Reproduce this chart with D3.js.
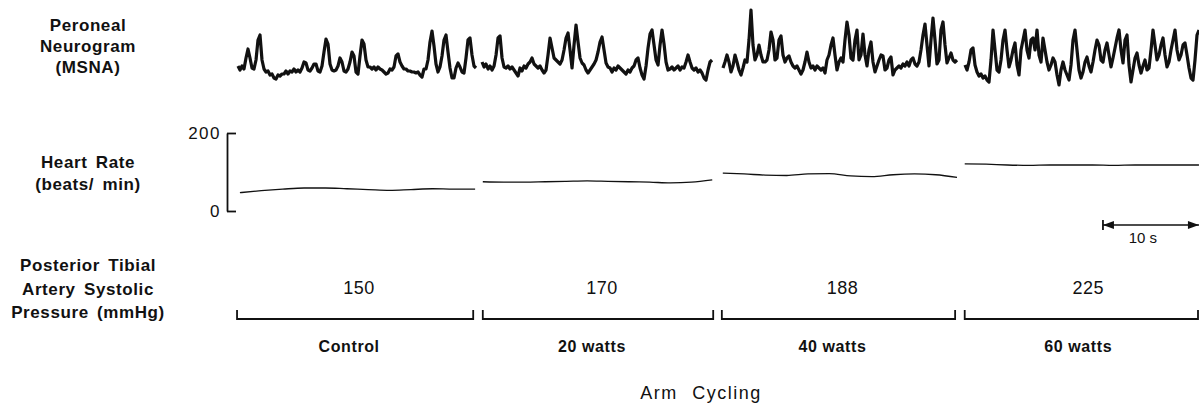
<!DOCTYPE html>
<html lang="en">
<head>
    <meta charset="UTF-8">
    <title>MSNA during Arm Cycling</title>
    <script src="https://d3js.org/d3.v7.min.js"></script>
    <style>
        body {
            margin: 0;
            background: #fff;
        }
        svg text {
            font-family: "Liberation Sans", Arial, sans-serif;
            fill: #111;
        }
        .label {
            font-size: 17px;
            font-weight: bold;
            letter-spacing: 0.6px;
            word-spacing: 3px;
        }
        .value {
            font-size: 18px;
            letter-spacing: 0.5px;
        }
        .stage {
            font-size: 16px;
            font-weight: bold;
            letter-spacing: 0.6px;
        }
        .hr-axis text {
            font-size: 17px;
            letter-spacing: 1.5px;
        }
    </style>
</head>
<body>
    <div id="chart"></div>

    <script>
        // ---- data ----
        const stages = ['Control', '20 watts', '40 watts', '60 watts'];
        const systolicPressure = [150, 170, 188, 225];   // mmHg
        const stageStart = [-0.1, 25.5, 50.4, 75.7];     // s
        const stageEnd = [24.5, 49.5, 74.7, 100.6];      // s

        // peroneal neurogram, arbitrary units, sampled at sampleRate
        const sampleRate = 4.8;  // samples per second
        const msnaStart = [0, 25.42, 50.52, 75.73];
        const msnaControl = [
            19,15,19,16,27,36,27,17,16,25, 45,50,25,16,13,14,10,11,7,6,
            10,9,11,11,14,11,14,13,16,13, 15,13,17,23,22,15,14,17,21,21,
            14,13,19,33,46,41,21,15,14,15, 19,27,23,14,13,16,23,33,29,13,
            11,29,45,41,25,18,18,16,18,15, 18,16,15,13,11,12,16,15,18,29,
            31,23,19,16,16,14,14,13,13,12, 13,10,8,16,16,25,43,54,39,21,
            13,18,29,45,50,33,17,7,7,17, 22,18,13,12,27,45,47,30,19,17
        ];
        const msna20 = [
            23,18,21,16,19,15,19,30,47,49, 27,18,17,19,16,18,15,12,9,17,
            14,19,17,21,23,27,21,19,17,19, 15,12,15,30,47,37,27,25,23,21,
            25,35,47,52,35,17,40,60,43,27, 22,20,15,12,15,18,21,25,33,43,
            48,35,22,18,17,13,17,15,19,17, 15,13,11,15,13,17,19,25,27,17,
            10,6,19,37,51,55,40,25,20,40, 55,41,23,15,16,18,15,17,19,15,
            18,17,23,30,23,17,15,17,13,15, 12,7,5,15,23,25
        ];
        const msna40 = [
            17,23,30,23,13,19,30,23,15,10, 17,25,23,45,75,40,25,30,40,30,
            23,23,25,35,53,45,25,27,45,49, 30,23,27,29,23,19,17,19,15,11,
            15,23,33,23,17,19,15,19,17,15, 17,12,25,30,40,47,30,15,23,27,
            23,45,63,50,27,25,45,55,25,30, 51,30,19,35,43,23,13,19,25,30,
            29,15,17,25,28,10,15,17,19,17, 21,19,23,19,25,27,21,19,23,35,
            50,61,40,19,45,67,45,21,25,55, 63,40,22,27,32,25,23,25
        ];
        const msna60 = [
            20,15,23,35,37,20,13,9,11,7, 9,5,3,25,55,35,15,13,25,45,
            55,35,18,25,35,42,20,10,35,45, 55,35,27,45,47,35,55,30,23,47,
            35,23,15,20,27,23,10,0,15,23, 15,10,5,20,45,55,35,15,7,13,
            23,28,19,13,23,35,45,40,25,23, 35,42,30,18,27,37,47,55,35,22,
            45,50,20,3,15,27,32,20,12,19, 25,15,17,35,55,40,25,30,40,47,
            30,18,23,35,45,55,35,25,30,40, 42,30,17,7,5,25,50,55
        ];

        // heart rate, beats/min, evenly spaced between hrStart and hrEnd
        const hrStart = [0.2, 25.5, 50.5, 75.7];
        const hrEnd = [24.7, 49.4, 74.9, 100.1];
        const hrControl = [47, 52, 56, 59, 59, 57, 55, 53, 55, 57, 56, 56];
        const hr20 = [75, 74, 74, 75, 76, 77, 76, 75, 74, 72, 74, 80];
        const hr40 = [97, 95, 92, 91, 95, 96, 90, 88, 93, 95, 93, 86];
        const hr60 = [121, 120, 118, 117, 118, 118, 118, 117, 118, 118, 118, 118];
        const hrTicks = [0, 200];

        const scaleBarStart = 90.1;  // s
        const scaleBarLength = 10;   // s

        // ---- chart ----
        const width = 1199, height = 406;

        const svg = d3.select('#chart')
            .append('svg')
            .attr('width', width)
            .attr('height', height);

        const x = d3.scaleLinear().domain([0, 100]).range([238, 1198]);
        const yMsna = d3.scaleLinear().domain([0, 60]).range([85, 25]);
        const yHr = d3.scaleLinear().domain([0, 200]).range([211, 133]);

        // row labels on the left
        const rowLabels = [
            { lines: ['Peroneal', 'Neurogram', '(MSNA)'], y: 31, step: 21 },
            { lines: ['Heart Rate', '(beats/ min)'], y: 168, step: 22 },
            { lines: ['Posterior Tibial', 'Artery Systolic', 'Pressure (mmHg)'], y: 271, step: 23.5 }
        ];
        rowLabels.forEach(r => {
            r.lines.forEach((t, i) => {
                svg.append('text')
                    .attr('class', 'label')
                    .attr('x', 88)
                    .attr('y', r.y + i * r.step)
                    .attr('text-anchor', 'middle')
                    .text(t);
            });
        });

        // neurogram traces
        const msnaLine = d3.line()
            .x(d => x(d.t))
            .y(d => yMsna(d.v));

        [msnaControl, msna20, msna40, msna60].forEach((seg, k) => {
            const pts = seg.map((v, i) => ({ t: msnaStart[k] + i / sampleRate, v: v }));
            svg.append('path')
                .datum(pts)
                .attr('fill', 'none')
                .attr('stroke', '#111')
                .attr('stroke-width', 3.2)
                .attr('stroke-linejoin', 'round')
                .attr('d', msnaLine);
        });

        // heart rate axis
        svg.append('g')
            .attr('class', 'hr-axis')
            .attr('transform', 'translate(227,0)')
            .call(d3.axisLeft(yHr)
                .tickValues(hrTicks)
                .tickSizeInner(-9)
                .tickSizeOuter(0)
                .tickPadding(6))
            .call(g => g.selectAll('line, path').attr('stroke', '#111').attr('stroke-width', 1.8))
            .call(g => g.selectAll('text').attr('dy', '0.35em'));

        // heart rate traces
        const hrLine = d3.line()
            .x(d => x(d.t))
            .y(d => yHr(d.v))
            .curve(d3.curveMonotoneX);

        [hrControl, hr20, hr40, hr60].forEach((seg, k) => {
            const dt = (hrEnd[k] - hrStart[k]) / (seg.length - 1);
            const pts = seg.map((v, i) => ({ t: hrStart[k] + i * dt, v: v }));
            svg.append('path')
                .datum(pts)
                .attr('fill', 'none')
                .attr('stroke', '#111')
                .attr('stroke-width', 1.3)
                .attr('d', hrLine);
        });

        // 10 s scale bar
        const sb0 = x(scaleBarStart), sb1 = x(scaleBarStart + scaleBarLength);
        const sbY = 225;
        svg.append('line')
            .attr('x1', sb0).attr('x2', sb1)
            .attr('y1', sbY).attr('y2', sbY)
            .attr('stroke', '#111').attr('stroke-width', 1.4);
        svg.append('line')
            .attr('x1', sb0).attr('x2', sb0)
            .attr('y1', sbY - 5).attr('y2', sbY + 5)
            .attr('stroke', '#111').attr('stroke-width', 1.8);
        svg.append('path')
            .attr('d', `M${sb0},${sbY}l11,-4v8z`)
            .attr('fill', '#111');
        svg.append('path')
            .attr('d', `M${sb1},${sbY}l-11,-4v8z`)
            .attr('fill', '#111');
        svg.append('text')
            .attr('x', (sb0 + sb1) / 2 - 8)
            .attr('y', sbY + 18)
            .attr('text-anchor', 'middle')
            .style('font-size', '15px')
            .text(scaleBarLength + ' s');

        // pressure values, brackets and stage names
        const bracketY = 319, bracketTop = 310;
        stages.forEach((s, i) => {
            const x0 = x(stageStart[i]), x1 = Math.min(x(stageEnd[i]), width - 1);
            const xm = (x(stageStart[i]) + x(stageEnd[i])) / 2;

            svg.append('path')
                .attr('d', `M${x0},${bracketTop}V${bracketY}H${x1}V${bracketTop}`)
                .attr('fill', 'none')
                .attr('stroke', '#111')
                .attr('stroke-width', 1.8);

            svg.append('text')
                .attr('class', 'value')
                .attr('x', xm + 4)
                .attr('y', 294)
                .attr('text-anchor', 'middle')
                .text(systolicPressure[i]);

            svg.append('text')
                .attr('class', 'stage')
                .attr('x', xm - 6)
                .attr('y', 352)
                .attr('text-anchor', 'middle')
                .text(s);
        });

        // bottom caption
        svg.append('text')
            .attr('x', 701)
            .attr('y', 399)
            .attr('text-anchor', 'middle')
            .style('font-size', '18px')
            .style('letter-spacing', '1.5px')
            .style('word-spacing', '8px')
            .text('Arm Cycling');
    </script>
</body>
</html>
